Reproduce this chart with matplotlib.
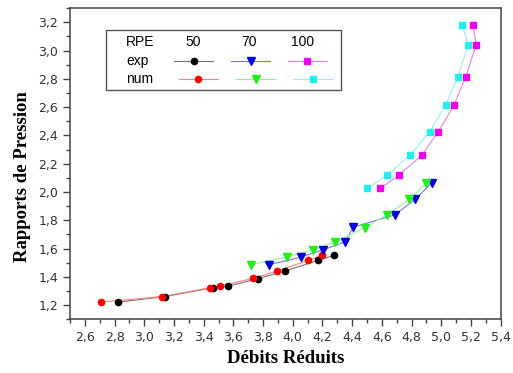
import matplotlib
matplotlib.use('Agg')
import matplotlib.pyplot as plt
from matplotlib.ticker import MultipleLocator, FuncFormatter
from matplotlib.lines import Line2D
from matplotlib.patches import Rectangle

# RPE 50
exp50_x = [2.823, 3.141, 3.462, 3.567, 3.765, 3.946, 4.173, 4.278]
exp50_y = [1.221, 1.261, 1.323, 1.335, 1.387, 1.441, 1.517, 1.552]
num50_x = [2.709, 3.121, 3.442, 3.513, 3.731, 3.895, 4.105, 4.195]
num50_y = [1.221, 1.261, 1.323, 1.335, 1.389, 1.441, 1.517, 1.552]

# RPE 70
exp70_x = [3.839, 4.052, 4.206, 4.352, 4.406, 4.686, 4.825, 4.935]
exp70_y = [1.486, 1.538, 1.592, 1.647, 1.751, 1.838, 1.949, 2.063]
num70_x = [3.720, 3.964, 4.137, 4.285, 4.484, 4.635, 4.785, 4.899]
num70_y = [1.486, 1.541, 1.592, 1.645, 1.749, 1.838, 1.949, 2.063]

# RPE 100
exp100_x = [4.590, 4.715, 4.870, 4.980, 5.085, 5.166, 5.235, 5.213]
exp100_y = [2.025, 2.120, 2.261, 2.427, 2.614, 2.817, 3.042, 3.181]
num100_x = [4.500, 4.635, 4.791, 4.922, 5.029, 5.112, 5.182, 5.139]
num100_y = [2.025, 2.120, 2.261, 2.427, 2.614, 2.817, 3.042, 3.181]

series = [
    (exp50_x, exp50_y, 'black', '#777777', 'o', 4.5),
    (num50_x, num50_y, 'red', '#ff8080', 'o', 4.5),
    (exp70_x, exp70_y, '#0000dd', '#7777ee', 'v', 5.5),
    (num70_x, num70_y, '#22ee22', '#99ee99', 'v', 5.5),
    (exp100_x, exp100_y, '#ee00ee', '#dd88dd', 's', 4.3),
    (num100_x, num100_y, '#22eeee', '#99eeee', 's', 4.3),
]

fig = plt.figure(figsize=(5.13, 3.73), dpi=100)
ax = fig.add_axes([0.1365, 0.144, 0.8395, 0.834])

for xs, ys, mc, lc, mk, ms in series:
    ax.plot(xs, ys, color=lc, lw=0.8, zorder=2)
    ax.plot(xs, ys, ls='none', marker=mk, ms=ms, color=mc, zorder=3)

ax.set_xlim(2.5, 5.4)
ax.set_ylim(1.1, 3.3)
ax.xaxis.set_minor_locator(MultipleLocator(0.1))
ax.yaxis.set_minor_locator(MultipleLocator(0.1))
ax.set_xticks([2.6 + 0.2 * i for i in range(15)])
ax.set_yticks([1.2 + 0.2 * i for i in range(11)])
comma = FuncFormatter(lambda v, p: f'{v:.1f}'.replace('.', ','))
ax.xaxis.set_major_formatter(comma)
ax.yaxis.set_major_formatter(comma)

ax.tick_params(which='both', direction='out', top=False, right=False,
               color='#444444')
ax.tick_params(which='major', length=5, width=1, labelsize=9,
               labelcolor='#333333')
ax.tick_params(which='minor', length=3, width=1)
for s in ax.spines.values():
    s.set_color('#444444')
    s.set_linewidth(1.1)

lab = dict(family='Liberation Serif', fontweight='bold', fontsize=13.5)
ax.set_xlabel('Débits Réduits', **lab)
ax.set_ylabel('Rapports de Pression', **lab)
ax.xaxis.set_label_coords(0.5, -0.10)
ax.yaxis.set_label_coords(-0.09, 0.46)

# legend box drawn as a table
tr = ax.transAxes
ax.add_patch(Rectangle((0.0836, 0.737), 0.545, 0.193, transform=tr,
                       fill=False, ec='#555555', lw=1, zorder=5))
txt = dict(transform=tr, fontsize=10, family='Liberation Sans',
           va='center', zorder=6)
ax.text(0.130, 0.8926, 'RPE', ha='left', **txt)
ax.text(0.130, 0.8315, 'exp', ha='left', **txt)
ax.text(0.130, 0.7717, 'num', ha='left', **txt)
for cx, name in zip([0.2856, 0.4156, 0.541], ['50', '70', '100']):
    ax.text(cx, 0.8926, name, ha='center', **txt)

rows_y = [0.8315, 0.7717]
starts = [[0.2415, 0.3738, 0.506], [0.2530, 0.3854, 0.5178]]
for i, (xs, ys, mc, lc, mk, ms) in enumerate(series):
    r = i % 2
    c = i // 2
    x0 = starts[r][c]
    ax.add_line(Line2D([x0, x0 + 0.0906], [rows_y[r]] * 2, color=lc, lw=0.8,
                       transform=tr, zorder=6))
    ax.add_line(Line2D([x0 + 0.0453], [rows_y[r]], marker=mk, ms=ms, color=mc,
                       transform=tr, zorder=7))

fig.savefig('out.png', dpi=100)
